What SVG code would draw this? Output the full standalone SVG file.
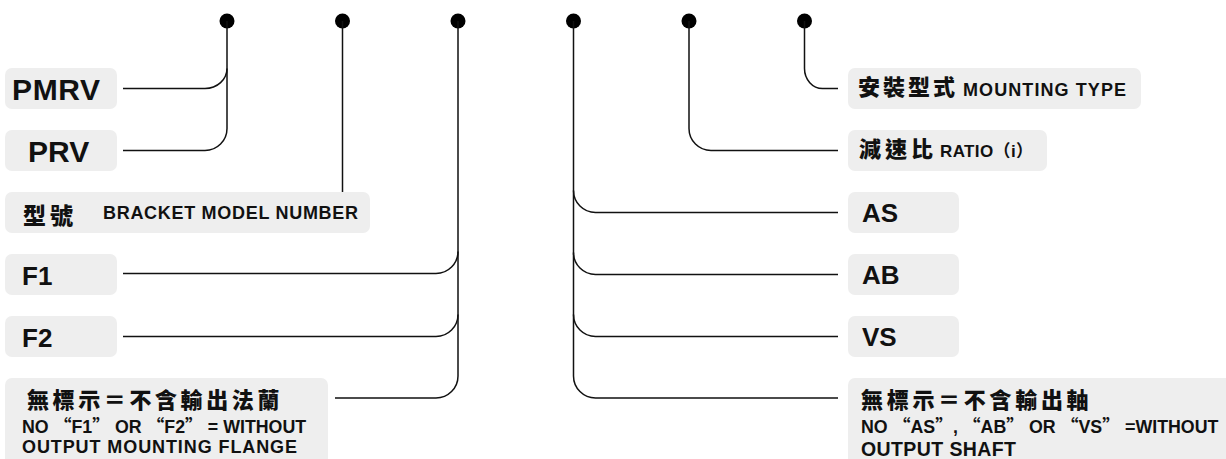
<svg xmlns="http://www.w3.org/2000/svg" width="1226" height="459" viewBox="0 0 1226 459">
<style>
.box{fill:#eeeeee}
.lat{font-family:"Liberation Sans",Arial,"Noto Sans CJK TC",sans-serif;font-weight:700;fill:#111}
.cjk{font-family:"Noto Sans CJK TC","Noto Sans CJK SC",sans-serif;font-weight:900;fill:#111}
.q{font-family:"Noto Sans CJK SC","Noto Sans CJK TC",sans-serif;font-weight:700}
.ln{fill:none;stroke:#111;stroke-width:1.5}
.dot{fill:#000}
</style>
<rect width="1226" height="459" fill="#fff"/>

<g id="connectors">
  <circle class="dot" cx="227" cy="21" r="7.5"/>
  <circle class="dot" cx="342.5" cy="21" r="7.5"/>
  <circle class="dot" cx="458" cy="21" r="7.5"/>
  <circle class="dot" cx="573.5" cy="21" r="7.5"/>
  <circle class="dot" cx="689" cy="21" r="7.5"/>
  <circle class="dot" cx="804.5" cy="21" r="7.5"/>
  <path class="ln" d="M123,150.5 H205 A22,22 0 0 0 227,128.5 V21"/>
  <path class="ln" d="M123,88.5 H205 A22,20 0 0 0 227,68.5"/>
  <path class="ln" d="M342.5,21 V192"/>
  <path class="ln" d="M458,21 V376 A22,22 0 0 1 436,398 H335"/>
  <path class="ln" d="M123,273.5 H436 A22,22 0 0 0 458,251.5"/>
  <path class="ln" d="M123,336.5 H436 A22,22 0 0 0 458,314.5"/>
  <path class="ln" d="M573.5,21 V376 A22,22 0 0 0 595.5,398 H838"/>
  <path class="ln" d="M838,212.5 H595.5 A22,22 0 0 1 573.5,190.5"/>
  <path class="ln" d="M838,274.5 H595.5 A22,22 0 0 1 573.5,252.5"/>
  <path class="ln" d="M838,336.5 H595.5 A22,22 0 0 1 573.5,314.5"/>
  <path class="ln" d="M689,21 V128.5 A22,22 0 0 0 711,150.5 H838"/>
  <path class="ln" d="M804.5,21 V68.5 A18,20 0 0 0 822.5,88.5 H838"/>
</g>

<g id="node-pmrv">
  <rect class="box" x="5" y="68" width="112" height="41" rx="7"/>
  <text class="lat" x="12" y="100" font-size="30" textLength="88">PMRV</text>
</g>
<g id="node-prv">
  <rect class="box" x="5" y="130" width="112" height="41" rx="7"/>
  <text class="lat" x="28" y="162" font-size="30">PRV</text>
</g>
<g id="node-model">
  <rect class="box" x="5" y="192" width="365" height="41" rx="7"/>
  <text class="cjk" x="23" y="224" font-size="23" letter-spacing="4">型號</text>
  <text class="lat" x="103" y="219" font-size="18" textLength="255">BRACKET MODEL NUMBER</text>
</g>
<g id="node-f1">
  <rect class="box" x="5" y="254" width="112" height="41" rx="7"/>
  <text class="lat" x="22" y="285" font-size="26">F1</text>
</g>
<g id="node-f2">
  <rect class="box" x="5" y="316" width="112" height="41" rx="7"/>
  <text class="lat" x="22" y="347" font-size="26">F2</text>
</g>
<g id="node-noflange">
  <rect class="box" x="5" y="378" width="323" height="100" rx="7"/>
  <text class="cjk" x="27" y="408" font-size="22" letter-spacing="3.6">無標示＝不含輸出法蘭</text>
  <text class="lat" x="22" y="433" font-size="17.8">NO <tspan class="q">“</tspan>F1<tspan class="q">”</tspan> OR <tspan class="q">“</tspan>F2<tspan class="q">”</tspan> = WITHOUT</text>
  <text class="lat" x="22" y="453" font-size="18" textLength="275">OUTPUT MOUNTING FLANGE</text>
</g>

<g id="node-mounting">
  <rect class="box" x="848" y="68" width="293" height="41" rx="7"/>
  <text class="cjk" x="858" y="95" font-size="22" letter-spacing="3">安裝型式</text>
  <text class="lat" x="963" y="95.5" font-size="18" textLength="163">MOUNTING TYPE</text>
</g>
<g id="node-ratio">
  <rect class="box" x="848" y="130" width="199" height="41" rx="7"/>
  <text class="cjk" x="859" y="157" font-size="22" letter-spacing="4">減速比</text>
  <text class="lat" x="940" y="157" font-size="17" textLength="93">RATIO（i）</text>
</g>
<g id="node-as">
  <rect class="box" x="848" y="192" width="111" height="41" rx="7"/>
  <text class="lat" x="862" y="222" font-size="26">AS</text>
</g>
<g id="node-ab">
  <rect class="box" x="848" y="254" width="111" height="41" rx="7"/>
  <text class="lat" x="862" y="284" font-size="26">AB</text>
</g>
<g id="node-vs">
  <rect class="box" x="848" y="316" width="111" height="41" rx="7"/>
  <text class="lat" x="862" y="346" font-size="26">VS</text>
</g>
<g id="node-noshaft">
  <rect class="box" x="848" y="378" width="400" height="100" rx="7"/>
  <text class="cjk" x="861" y="408" font-size="22" letter-spacing="3.7">無標示＝不含輸出軸</text>
  <text class="lat" x="861" y="433" font-size="17.8">NO <tspan class="q">“</tspan>AS<tspan class="q">”</tspan>, <tspan class="q">“</tspan>AB<tspan class="q">”</tspan> OR <tspan class="q">“</tspan>VS<tspan class="q">”</tspan> <tspan class="q">=</tspan>WITHOUT</text>
  <text class="lat" x="861" y="455.5" font-size="19.5" textLength="155">OUTPUT SHAFT</text>
</g>
</svg>
